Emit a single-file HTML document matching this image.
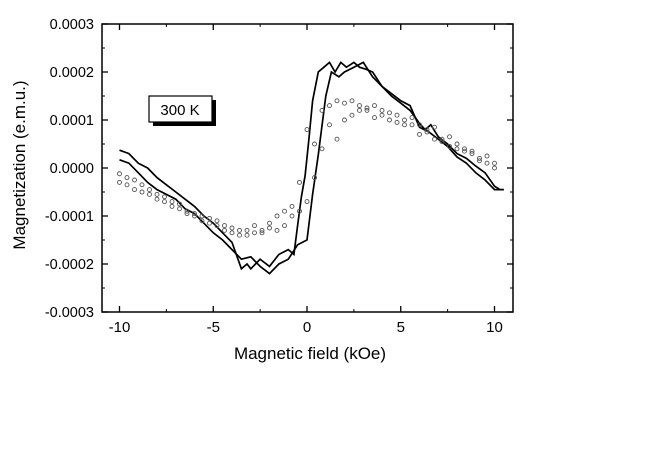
<!DOCTYPE html>
<html><head><meta charset="utf-8"><style>
body{margin:0;background:#fff;}
svg{display:block;font-family:"Liberation Sans",Arial,sans-serif;}
</style></head><body>
<svg id="chart" width="654" height="449">
<rect x="0" y="0" width="654" height="449" fill="#fff"/>
<g id="axes"></g>
<g id="series"></g>
<g>
<rect x="153" y="100" width="63" height="26" fill="#000"/>
<rect x="149" y="96" width="63" height="26" fill="#fff" stroke="#000" stroke-width="1.2"/>
<text x="180" y="115" font-size="15" text-anchor="middle">300 K</text>
</g>
<text x="310" y="359" font-size="17" text-anchor="middle">Magnetic field (kOe)</text>
<text transform="translate(25,165) rotate(-90)" font-size="17" text-anchor="middle">Magnetization (e.m.u.)</text>
</svg>
<script>
const xTicks=[-10,-5,0,5,10];
const yTicks=[0.0003,0.0002,0.0001,0,-0.0001,-0.0002,-0.0003];
const yTickLabels=["0.0003","0.0002","0.0001","0.0000","-0.0001","-0.0002","-0.0003"];
const branch1X=[-10,-9.5,-9,-8.5,-8,-7.5,-7,-6.5,-6,-5.5,-5,-4.5,-4,-3.5,-3.2,-3,-2.5,-2,-1.5,-1,-0.7,-0.5,-0.3,-0.1,0.1,0.3,0.6,0.9,1.2,1.5,1.8,2.1,2.5,2.8,3.2,3.5,4,4.5,5,5.5,6,6.3,6.6,7,7.5,8,8.5,9,9.5,10,10.3];
const branch1Y=[0.37,0.3,0.1,0.0,-0.2,-0.35,-0.5,-0.65,-0.8,-1.0,-1.15,-1.35,-1.55,-2.1,-2.0,-2.1,-1.9,-2.05,-1.8,-1.7,-1.8,-1.2,-0.6,-0.16,0.6,1.4,2.0,2.1,2.2,2.0,2.2,2.1,2.2,2.1,2.05,2.0,1.7,1.5,1.35,1.2,0.93,0.8,0.9,0.65,0.5,0.3,0.2,0.04,-0.1,-0.38,-0.45];
const branch2X=[-10,-9.5,-9,-8.5,-8,-7.5,-7,-6.5,-6,-5.5,-5,-4.5,-4,-3.5,-3,-2.5,-2,-1.5,-1,-0.5,0,0.3,0.6,1,1.3,1.7,2,2.5,3,3.5,4,4.5,5,5.5,6,6.5,7,7.5,8,8.5,9,9.5,10,10.5];
const branch2Y=[0.17,0.1,-0.1,-0.3,-0.45,-0.55,-0.65,-0.85,-0.95,-1.15,-1.35,-1.5,-1.7,-1.9,-1.85,-2.05,-2.2,-2.0,-1.9,-1.6,-1.5,-0.55,0.28,1.5,2.0,1.9,2.0,2.1,2.2,1.9,1.7,1.55,1.4,1.3,0.85,0.75,0.6,0.45,0.23,0.1,-0.1,-0.25,-0.45,-0.45];
const circ1X=[-10,-9.6,-9.2,-8.8,-8.4,-8,-7.6,-7.2,-6.8,-6.4,-6,-5.6,-5.2,-4.8,-4.4,-4,-3.6,-3.2,-2.8,-2.4,-2,-1.6,-1.2,-0.8,-0.4,0,0.4,0.8,1.2,1.6,2,2.4,2.8,3.2,3.6,4,4.4,4.8,5.2,5.6,6,6.4,6.8,7.2,7.6,8,8.4,8.8,9.2,9.6,10];
const circ1Y=[-0.12,-0.2,-0.25,-0.35,-0.45,-0.55,-0.6,-0.7,-0.75,-0.9,-0.95,-1.0,-1.05,-1.1,-1.2,-1.25,-1.3,-1.3,-1.2,-1.3,-1.15,-1.0,-0.9,-0.8,-0.3,0.8,0.5,1.2,1.3,1.4,1.35,1.4,1.3,1.2,1.3,1.2,1.15,1.1,1.0,1.05,0.9,0.8,0.85,0.6,0.65,0.5,0.4,0.35,0.2,0.1,0.0];
const circ2X=[-10,-9.6,-9.2,-8.8,-8.4,-8,-7.6,-7.2,-6.8,-6.4,-6,-5.6,-5.2,-4.8,-4.4,-4,-3.6,-3.2,-2.8,-2.4,-2,-1.6,-1.2,-0.8,-0.4,0,0.4,0.8,1.2,1.6,2,2.4,2.8,3.2,3.6,4,4.4,4.8,5.2,5.6,6,6.4,6.8,7.2,7.6,8,8.4,8.8,9.2,9.6,10];
const circ2Y=[-0.3,-0.35,-0.45,-0.5,-0.55,-0.65,-0.7,-0.8,-0.85,-0.95,-1.0,-1.1,-1.15,-1.2,-1.3,-1.35,-1.4,-1.4,-1.35,-1.35,-1.25,-1.3,-1.2,-1.0,-0.9,-0.7,-0.2,0.4,0.9,0.6,1.0,1.1,1.2,1.25,1.05,1.1,1.0,0.95,0.9,0.9,0.7,0.75,0.6,0.55,0.45,0.4,0.35,0.3,0.15,0.25,0.1];
const X0=102,X1=513,Y0=24,Y1=312;
function sx(v){return 307+v*18.75;}
function sy(v){return 168-v*48;}
const NS='http://www.w3.org/2000/svg';
function mk(t,a,p){const e=document.createElementNS(NS,t);for(const k in a)e.setAttribute(k,a[k]);p.appendChild(e);return e;}
const ax=document.getElementById('axes');
const frame=mk('rect',{x:X0,y:Y0,width:X1-X0,height:Y1-Y0,fill:'none',stroke:'#000','stroke-width':1.5},ax);


xTicks.forEach(v=>{
 const x=sx(v);
 mk('line',{x1:x,y1:Y1,x2:x,y2:Y1-6,stroke:'#000','stroke-width':1.3},ax);
 mk('line',{x1:x,y1:Y0,x2:x,y2:Y0+6,stroke:'#000','stroke-width':1.3},ax);
 const t=mk('text',{x:x,y:Y1+20,'font-size':15,'text-anchor':'middle'},ax);
 t.textContent=String(v);
 
 
});
for(let v=-7.5;v<=10;v+=5){const x=sx(v);mk('line',{x1:x,y1:Y1,x2:x,y2:Y1-3,stroke:'#000'},ax);mk('line',{x1:x,y1:Y0,x2:x,y2:Y0+3,stroke:'#000'},ax);}
yTicks.forEach((v,i)=>{
 const y=sy(v*1e4);
 mk('line',{x1:X0,y1:y,x2:X0+6,y2:y,stroke:'#000','stroke-width':1.3},ax);
 mk('line',{x1:X1,y1:y,x2:X1-6,y2:y,stroke:'#000','stroke-width':1.3},ax);
 const t=mk('text',{x:X0-8,y:y+5,'font-size':14.5,'text-anchor':'end'},ax);
 t.textContent=yTickLabels[i];
 
 
});
for(let v=-2.5;v<3;v+=1){const y=sy(v);mk('line',{x1:X0,y1:y,x2:X0+3,y2:y,stroke:'#000'},ax);mk('line',{x1:X1,y1:y,x2:X1-3,y2:y,stroke:'#000'},ax);}
const sg=document.getElementById('series');
function line(xs,ys,name){
 const d=xs.map((x,i)=>(i?'L':'M')+sx(x).toFixed(1)+' '+sy(ys[i]).toFixed(1)).join(' ');
 const p=mk('path',{d:d,fill:'none',stroke:'#000','stroke-width':1.7},sg);
 
 
}
line(branch1X,branch1Y,'solid-branch-descending');
line(branch2X,branch2Y,'solid-branch-ascending');
function dots(xs,ys,name){
 const g=mk('g',{},sg);
 
 
 xs.forEach((x,i)=>mk('circle',{cx:sx(x),cy:sy(ys[i]),r:2,fill:'none',stroke:'#555','stroke-width':0.9},g));
}
dots(circ1X,circ1Y,'circle-branch-1');
dots(circ2X,circ2Y,'circle-branch-2');
</script>
</body></html>
